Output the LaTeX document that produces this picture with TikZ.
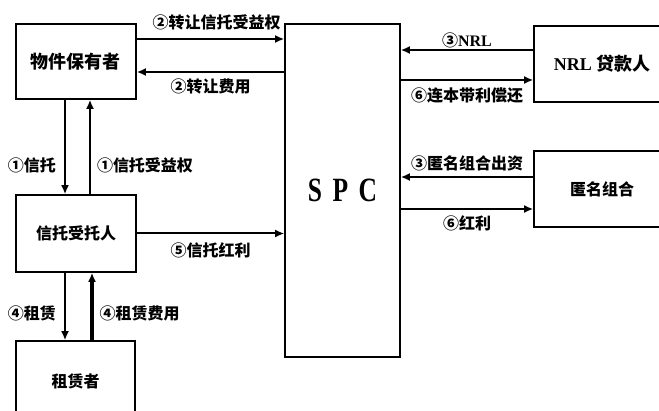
\documentclass[tikz,border=0pt]{standalone}
\usepackage{graphicx}
\usepackage{fontspec}
\setmainfont{Liberation Serif}
\newfontfamily\cjk{Noto Sans CJK SC}
\usetikzlibrary{arrows.meta,positioning,calc}

\begin{document}
\begin{tikzpicture}[x=0.5pt,y=-0.5pt,
    box/.style={draw,line width=0.8pt,rectangle,inner sep=0pt,
                font=\cjk\bfseries\fontsize{8}{10}\selectfont},
    lbl/.style={inner sep=0pt,font=\cjk\bfseries\fontsize{8}{10}\selectfont},
    arr/.style={line width=1pt,-{Latex[length=4.5pt,width=4pt]}}]
  \useasboundingbox (0,0) rectangle (659,411);
  \clip (0,0) rectangle (659,411);

  % Parties
  \node[box,minimum width=60pt,minimum height=37.5pt,
        font=\cjk\bfseries\fontsize{9}{10}\selectfont] (owner) at (76,61.5) {物件保有者};
  \node[box,minimum width=60pt,minimum height=38.5pt] (trustee) at (76,233.5) {信托受托人};
  \node[box,minimum width=59.5pt,minimum height=40pt] (lessee) at (75.5,381) {租赁者};
  \node[box,minimum width=57.5pt,minimum height=166.5pt,
        font=\bfseries\fontsize{17}{18}\selectfont] (spc) at (342.5,190.5)
        {\scalebox{0.75}[1]{S\hspace{7pt}P\hspace{7pt}C}};
  \node[box,minimum width=68pt,minimum height=38pt,
        font=\cjk\bfseries\fontsize{9}{10}\selectfont] (nrl) at (602,64) {{\rmfamily\bfseries NRL} 贷款人};
  \node[box,minimum width=68pt,minimum height=38pt] (anon) at (602,189) {匿名组合};

  % Owner <-> SPC
  \coordinate (h1) at ($(owner.east)+(0,-22.5)$);
  \coordinate (h2) at ($(owner.east)+(0,10.5)$);
  \draw[arr] (h1) -- (h1 -| spc.west)
    node[lbl,midway,above=4pt,xshift=3pt] {②转让信托受益权};
  \draw[arr] (h2 -| spc.west) -- (h2)
    node[lbl,midway,below=3pt] {②转让费用};

  % Owner <-> Trustee
  \coordinate (v1) at ($(owner.south)+(-11,0)$);
  \coordinate (v2) at ($(owner.south)+(14,0)$);
  \draw[arr] (v1) -- (v1 |- trustee.north)
    node[lbl,pos=0.7,left=4pt] {①信托};
  \draw[arr] (v2 |- trustee.north) -- (v2)
    node[lbl,pos=0.3,right=3pt] {①信托受益权};

  % Trustee -> SPC
  \draw[arr] (trustee.east) -- (trustee.east -| spc.west)
    node[lbl,midway,below=4pt] {⑤信托红利};

  % Trustee <-> Lessee
  \coordinate (v3) at ($(trustee.south)+(-11,0)$);
  \coordinate (v4) at ($(trustee.south)+(16,0)$);
  \draw[arr] (v3) -- (v3 |- lessee.north)
    node[lbl,pos=0.6,left=4pt] {④租赁};
  \draw[arr,line width=1.6pt] (v4 |- lessee.north) -- (v4)
    node[lbl,pos=0.4,right=3pt] {④租赁费用};

  % NRL lender <-> SPC
  \coordinate (h3) at ($(nrl.west)+(0,-14)$);
  \coordinate (h4) at ($(nrl.west)+(0,16)$);
  \draw[arr] (h3) -- (h3 -| spc.east)
    node[lbl,midway,above=0.5pt] {③{\rmfamily\bfseries NRL}};
  \draw[arr] (h4 -| spc.east) -- (h4)
    node[lbl,midway,below=3.5pt] {⑥连本带利偿还};

  % Anonymous partnership <-> SPC
  \coordinate (h5) at ($(anon.west)+(0,-12)$);
  \coordinate (h6) at ($(anon.west)+(0,20)$);
  \draw[arr] (h5) -- (h5 -| spc.east)
    node[lbl,midway,above=2.5pt] {③匿名组合出资};
  \draw[arr] (h6 -| spc.east) -- (h6)
    node[lbl,midway,below=3pt] {⑥红利};
\end{tikzpicture}
\end{document}
